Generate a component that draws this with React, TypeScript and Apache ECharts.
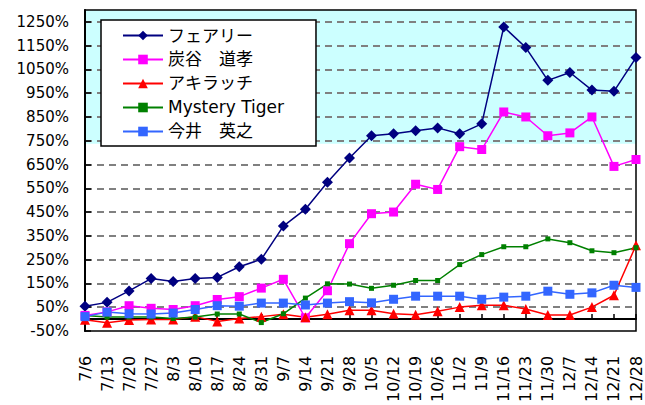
import React, { useEffect, useRef } from "react";
import * as echarts from "echarts";

const categories = [
  "7/6", "7/13", "7/20", "7/27", "8/3", "8/10", "8/17", "8/24", "8/31",
  "9/7", "9/14", "9/21", "9/28", "10/5", "10/12", "10/19", "10/26",
  "11/2", "11/9", "11/16", "11/23", "11/30", "12/7", "12/14", "12/21", "12/28",
];

const seriesNames = ["フェアリー", "炭谷　道孝", "アキラッチ", "Mystery Tiger", "今井　英之"];

const fairy = [54, 70, 118, 170, 158, 170, 175, 220, 251, 391, 462, 575, 677, 771, 779, 792, 804, 779, 821, 1229, 1142, 1004, 1037, 963, 958, 1100];
const sumitani = [15, 30, 56, 45, 40, 56, 82, 94, 130, 167, 5, 119, 317, 443, 450, 567, 545, 725, 713, 871, 850, 771, 783, 850, 642, 671];
const akiratchi = [-3, -16, -4, -2, -2, 10, -10, 2, 10, 20, 7, 20, 37, 37, 22, 18, 33, 50, 58, 58, 42, 17, 17, 50, 100, 310];
const mystery = [15, 8, 8, 8, 2, 8, 21, 21, -15, 22, 88, 148, 147, 129, 142, 162, 162, 229, 271, 304, 304, 337, 321, 287, 279, 300];
const imai = [10, 29, 22, 21, 25, 40, 56, 54, 67, 67, 59, 67, 73, 68, 83, 96, 96, 96, 83, 92, 96, 117, 104, 110, 142, 133];

const yMin = -50;
const yMax = 1300;
const yStep = 100;
const bandFrom = 737;

const App: React.FC = () => {
  const ref = useRef<HTMLDivElement>(null);
  useEffect(() => {
    if (!ref.current) return;
    const chart = echarts.init(ref.current, undefined, { renderer: "svg" });
    const mk = (name: string, data: number[], color: string, symbol: string, size: number) => ({
      name,
      type: "line",
      data,
      symbol,
      symbolSize: size,
      showAllSymbol: true,
      lineStyle: { color, width: 1.5 },
      itemStyle: { color },
      z: 4,
    });
    chart.setOption({
      animation: false,
      backgroundColor: "#fff",
      grid: {
        left: 85,
        right: 9,
        top: 10,
        bottom: 71,
        show: true,
        borderColor: "#000",
        borderWidth: 1.5,
        backgroundColor: "transparent",
      },
      legend: {
        data: seriesNames,
        orient: "vertical",
        left: 101,
        top: 20,
        itemWidth: 40,
        itemHeight: 12,
        itemGap: 7,
        padding: [7, 32, 6, 21],
        backgroundColor: "#fff",
        borderColor: "#000",
        borderWidth: 1.5,
        z: 10,
        textStyle: { fontSize: 17, color: "#000", fontFamily: "'DejaVu Sans', 'Noto Sans CJK JP', sans-serif" },
      },
      xAxis: {
        type: "category",
        data: categories,
        boundaryGap: false,
        axisLine: { onZero: true, lineStyle: { color: "#000", width: 2 } },
        axisTick: { inside: true, length: 5, interval: 0, lineStyle: { color: "#000", width: 1.5 } },
        axisLabel: {
          rotate: 90,
          interval: 0,
          margin: 25,
          fontSize: 16,
          color: "#000",
          fontFamily: "'DejaVu Sans', sans-serif",
        },
        splitLine: { show: false },
      },
      yAxis: {
        type: "value",
        min: yMin,
        max: yMax,
        interval: yStep,
        z: 2,
        axisLine: { show: true, lineStyle: { color: "#000", width: 2 } },
        axisTick: { show: true, inside: true, length: 6, lineStyle: { color: "#000", width: 1.5 } },
        axisLabel: {
          showMaxLabel: false,
          margin: 16,
          fontSize: 15,
          color: "#000",
          fontFamily: "'DejaVu Sans', sans-serif",
          formatter: (v: number) => (v === yMax ? "" : v + "%"),
        },
        splitLine: {
          show: true,
          showMinLine: false,
          showMaxLine: false,
          lineStyle: { color: "#808080", width: 2, type: [7, 5] },
        },
      },
      series: [
        {
          name: "band",
          type: "line",
          data: [],
          z: -1,
          silent: true,
          markArea: {
            silent: true,
            z: -1,
            itemStyle: { color: "#ccffff" },
            data: [[{ yAxis: bandFrom }, { yAxis: yMax }]],
          },
        },
        mk(seriesNames[0], fairy, "#000080", "diamond", 11),
        mk(seriesNames[1], sumitani, "#ff00ff", "rect", 9),
        mk(seriesNames[2], akiratchi, "#ff0000", "triangle", 10),
        mk(seriesNames[3], mystery, "#008000", "rect", 5),
        mk(seriesNames[4], imai, "#3366ff", "rect", 9),
      ],
    });
    return () => chart.dispose();
  }, []);
  return <div ref={ref} style={{ width: 645, height: 405, position: "absolute", left: 0, top: 0 }} />;
};

export default App;
